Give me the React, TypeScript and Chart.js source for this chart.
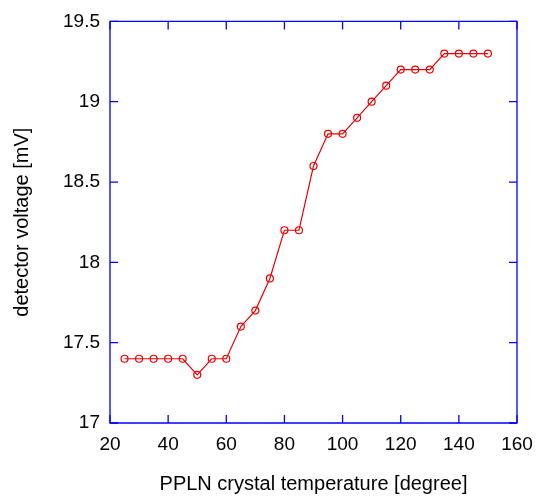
import React, { useEffect, useRef } from "react";
import { Chart, registerables } from "chart.js";

Chart.register(...registerables);

const temperatures = [25, 30, 35, 40, 45, 50, 55, 60, 65, 70, 75, 80, 85, 90, 95, 100, 105, 110, 115, 120, 125, 130, 135, 140, 145, 150];
const voltages = [17.4, 17.4, 17.4, 17.4, 17.4, 17.3, 17.4, 17.4, 17.6, 17.7, 17.9, 18.2, 18.2, 18.6, 18.8, 18.8, 18.9, 19.0, 19.1, 19.2, 19.2, 19.2, 19.3, 19.3, 19.3, 19.3];
const xTicks = [20, 40, 60, 80, 100, 120, 140, 160];
const yTicks = [17, 17.5, 18, 18.5, 19, 19.5];

const FRAME = "#0000ff";
const FONT = "'Liberation Sans', Arial, sans-serif";

const framePlugin = {
  id: "frame",
  afterDraw(chart: any) {
    const { ctx, chartArea: a, scales } = chart;
    const L = 8;
    ctx.save();
    ctx.strokeStyle = FRAME;
    ctx.lineWidth = 1.3;
    ctx.beginPath();
    ctx.rect(a.left, a.top, a.right - a.left, a.bottom - a.top);
    ctx.stroke();
    ctx.beginPath();
    for (const v of xTicks) {
      const px = scales.x.getPixelForValue(v);
      ctx.moveTo(px, a.bottom);
      ctx.lineTo(px, a.bottom - L);
      ctx.moveTo(px, a.top);
      ctx.lineTo(px, a.top + L);
    }
    for (const v of yTicks) {
      const py = scales.y.getPixelForValue(v);
      ctx.moveTo(a.left, py);
      ctx.lineTo(a.left + L, py);
      ctx.moveTo(a.right, py);
      ctx.lineTo(a.right - L, py);
    }
    ctx.stroke();
    ctx.restore();
  },
};

export default function App() {
  const ref = useRef<HTMLCanvasElement>(null);
  useEffect(() => {
    if (!ref.current) return;
    const chart = new Chart(ref.current, {
      type: "line",
      data: {
        datasets: [
          {
            data: temperatures.map((t, i) => ({ x: t, y: voltages[i] })),
            borderColor: "#ee0000",
            borderWidth: 1.2,
            pointRadius: 3.5,
            pointBorderWidth: 1.2,
            pointBorderColor: "#ee0000",
            pointBackgroundColor: "rgba(0,0,0,0)",
            tension: 0,
          },
        ],
      },
      options: {
        responsive: false,
        animation: false,
        layout: { padding: { left: 0, top: 17, right: 26, bottom: 0 } },
        plugins: { legend: { display: false }, tooltip: { enabled: false } },
        scales: {
          x: {
            type: "linear",
            min: 20,
            max: 160,
            afterBuildTicks: (s: any) => {
              s.ticks = xTicks.map((v) => ({ value: v }));
            },
            afterFit: (s: any) => {
              s.height = 74;
            },
            grid: { display: false, drawTicks: false },
            border: { display: false },
            ticks: {
              padding: 10,
              color: "#000",
              font: { family: FONT, size: 19 },
              maxRotation: 0,
              callback: (v: any) => String(v),
            },
            title: {
              display: true,
              text: "PPLN crystal temperature [degree]",
              color: "#000",
              font: { family: FONT, size: 20 },
              padding: { top: 0, bottom: 1 },
            },
          },
          y: {
            type: "linear",
            min: 17,
            max: 19.5,
            afterBuildTicks: (s: any) => {
              s.ticks = yTicks.map((v) => ({ value: v }));
            },
            afterFit: (s: any) => {
              s.width = 110;
            },
            grid: { display: false, drawTicks: false },
            border: { display: false },
            ticks: {
              padding: 10,
              color: "#000",
              font: { family: FONT, size: 19 },
              callback: (v: any) => String(v),
            },
            title: {
              display: true,
              text: "detector voltage [mV]",
              color: "#000",
              font: { family: FONT, size: 20 },
              padding: { top: 10, bottom: 0 },
            },
          },
        },
      },
      plugins: [framePlugin],
    });
    return () => chart.destroy();
  }, []);
  return (
    <div style={{ position: "fixed", left: 0, top: 0, width: 543, height: 497, background: "#fff" }}>
      <canvas ref={ref} width={543} height={497} />
    </div>
  );
}
